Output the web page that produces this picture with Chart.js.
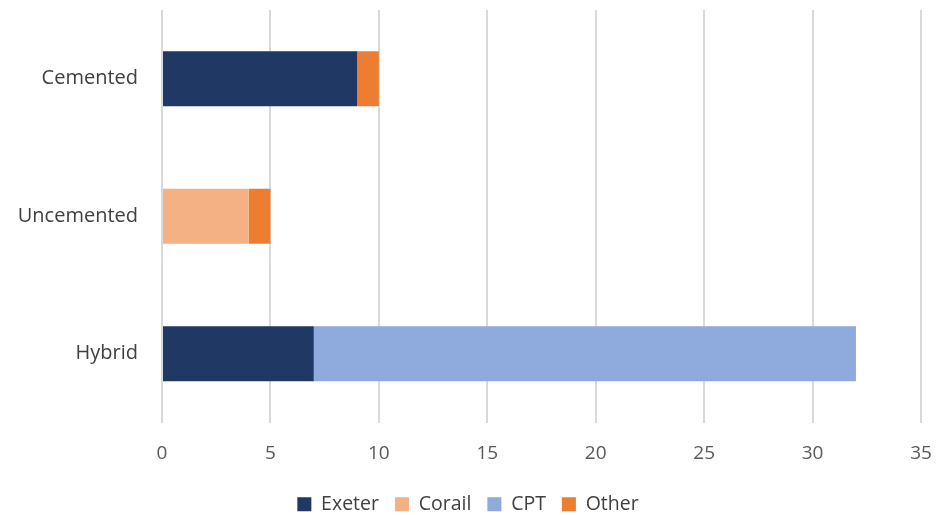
<!DOCTYPE html>
<html>
<head>
<meta charset="utf-8">
<script src="https://cdn.jsdelivr.net/npm/chart.js@4"></script>
<style>
  html, body { margin: 0; padding: 0; background: #fff; }
  #wrap { width: 936px; height: 515px; }
</style>
</head>
<body>
<div id="wrap"><canvas id="myChart" width="936" height="515"></canvas></div>
<script>
var categorias = ["Cemented", "Uncemented", "Hybrid"];
var exeter = [9, 0, 7];
var corail = [0, 4, 0];
var cpt = [0, 0, 25];
var other = [1, 1, 0];
var ticksX = [0, 5, 10, 15, 20, 25, 30, 35];

var fuente = "'Open Sans', 'Noto Sans', sans-serif";

var ctx = document.getElementById("myChart");
var grafico = new Chart(ctx, {
    type: 'bar',
    data: {
        labels: categorias,
        datasets: [
            { label: "Exeter", data: exeter, backgroundColor: '#203864' },
            { label: "Corail", data: corail, backgroundColor: '#F4B183' },
            { label: "CPT", data: cpt, backgroundColor: '#8FAADC' },
            { label: "Other", data: other, backgroundColor: '#ED7D31' }
        ]
    },
    options: {
        indexAxis: 'y',
        responsive: false,
        animation: false,
        categoryPercentage: 1,
        barPercentage: 0.4,
        layout: { padding: { top: 10, right: 0, left: 0, bottom: -9 } },
        scales: {
            x: {
                stacked: true,
                min: 0,
                max: 35,
                afterBuildTicks: function (axis) {
                    axis.ticks = ticksX.map(function (v) { return { value: v }; });
                },
                afterFit: function (axis) {
                    axis.height = 56;
                    axis.paddingLeft = 0;
                    axis.paddingRight = 15;
                },
                grid: { color: '#d9d9d9', lineWidth: 2, drawTicks: false },
                border: { display: false },
                ticks: { color: '#595959', font: { family: fuente, size: 19 }, padding: 20 }
            },
            y: {
                stacked: true,
                afterFit: function (axis) {
                    axis.width = 162;
                    axis.paddingTop = 0;
                    axis.paddingBottom = 0;
                },
                grid: { display: false },
                border: { display: false },
                ticks: { color: '#404040', font: { family: fuente, size: 20 }, padding: 16 }
            }
        },
        plugins: {
            legend: {
                position: 'bottom',
                labels: {
                    color: '#404040',
                    font: { family: fuente, size: 19.5 },
                    boxWidth: 14,
                    boxHeight: 14,
                    padding: 16
                }
            },
            tooltip: { enabled: false }
        }
    }
});
</script>
</body>
</html>
